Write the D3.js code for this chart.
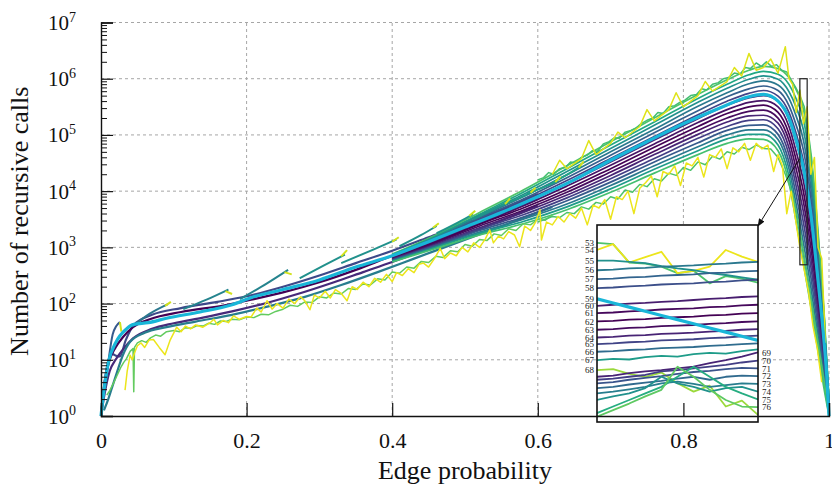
<!DOCTYPE html>
<html>
<head>
<meta charset="utf-8">
<script src="https://cdn.jsdelivr.net/npm/d3@7"></script>
<style>
  body { margin: 0; background: #fff; }
  svg { display: block; font-family: "Liberation Serif", "DejaVu Serif", serif; }
</style>
</head>
<body>
<div id="chart"></div>
<script>
// ---------- data (values are log10 of the number of recursive calls) ----------
const xTickValues = [0, 0.2, 0.4, 0.6, 0.8, 1];
const yDecades = [0, 1, 2, 3, 4, 5, 6, 7];

// dense family of curves (top -> bottom on the rising side)
const bandP = [0.40, 0.46, 0.52, 0.58, 0.64, 0.70, 0.76, 0.82, 0.86, 0.89, 0.91, 0.93, 0.945, 0.955, 0.965, 0.975, 0.985, 0.993, 1.0];
const bandCurves = [
  [2.88,3.22,3.62,4.02,4.45,4.88,5.30,5.72,5.98,6.15,6.22,6.18,6.02,5.80,5.45,4.60,3.20,1.90,0.30],
  [2.87,3.20,3.59,3.98,4.40,4.82,5.23,5.65,5.90,6.07,6.13,6.08,5.90,5.64,5.27,4.42,3.06,1.81,0.28],
  [2.86,3.19,3.57,3.94,4.35,4.76,5.17,5.58,5.83,5.99,6.05,5.99,5.77,5.49,5.08,4.25,2.93,1.71,0.26],
  [2.85,3.17,3.54,3.90,4.29,4.70,5.10,5.51,5.75,5.91,5.96,5.89,5.65,5.33,4.90,4.07,2.79,1.62,0.24],
  [2.84,3.16,3.51,3.86,4.24,4.64,5.04,5.43,5.68,5.82,5.87,5.79,5.52,5.17,4.72,3.89,2.65,1.53,0.22],
  [2.83,3.14,3.49,3.82,4.19,4.58,4.97,5.36,5.60,5.74,5.79,5.69,5.40,5.02,4.53,3.72,2.52,1.43,0.20],
  [2.82,3.12,3.46,3.78,4.14,4.52,4.91,5.29,5.53,5.66,5.70,5.60,5.27,4.86,4.35,3.54,2.38,1.34,0.18],
  [2.81,3.11,3.43,3.74,4.09,4.46,4.84,5.22,5.45,5.58,5.61,5.50,5.15,4.70,4.17,3.36,2.24,1.25,0.16],
  [2.81,3.09,3.41,3.70,4.03,4.40,4.78,5.15,5.38,5.50,5.53,5.40,5.02,4.55,3.98,3.19,2.11,1.15,0.14],
  [2.80,3.08,3.38,3.66,3.98,4.34,4.71,5.08,5.30,5.42,5.44,5.30,4.90,4.39,3.80,3.01,1.97,1.06,0.12],
  [2.79,3.06,3.35,3.62,3.93,4.28,4.65,5.01,5.23,5.34,5.35,5.21,4.77,4.23,3.62,2.83,1.83,0.97,0.10],
  [2.78,3.04,3.33,3.58,3.88,4.22,4.58,4.94,5.15,5.26,5.27,5.11,4.65,4.08,3.43,2.66,1.70,0.87,0.08],
  [2.77,3.03,3.30,3.54,3.83,4.16,4.52,4.86,5.08,5.17,5.18,5.01,4.52,3.92,3.25,2.48,1.56,0.78,0.06],
  [2.76,3.01,3.27,3.50,3.77,4.10,4.45,4.79,5.00,5.09,5.09,4.92,4.40,3.76,3.07,2.30,1.42,0.69,0.04],
  [2.75,3.00,3.25,3.46,3.72,4.04,4.39,4.72,4.93,5.01,5.01,4.82,4.27,3.61,2.88,2.13,1.29,0.59,0.02],
  [2.74,2.98,3.22,3.42,3.67,3.98,4.32,4.65,4.85,4.93,4.92,4.72,4.15,3.45,2.70,1.95,1.15,0.50,0.00]
];
const bandColorT = [0.72,0.6,0.5,0.4,0.3,0.2,0.12,0.05,0.0,0.03,0.1,0.18,0.28,0.4,0.55,0.7];

// the few curves visible at small edge probability
const bundleCurves = [
  [[0,0],[0.006,0.7],[0.012,1.05],[0.016,1.1],[0.021,1.07],[0.026,1.06],[0.034,1.35],[0.045,1.62],[0.07,1.8],[0.11,1.92],[0.16,2.03],[0.2,2.13],[0.25,2.3],[0.3,2.5],[0.35,2.72],[0.4,2.94],[0.45,3.18],[0.5,3.42],[0.55,3.68],[0.6,3.95]],
  [[0,0],[0.0055,0.64],[0.012,1.0],[0.02,1.22],[0.03,1.4],[0.044,1.58],[0.067,1.72],[0.11,1.85],[0.17,1.97],[0.21,2.08],[0.25,2.2],[0.3,2.38],[0.35,2.6],[0.4,2.85],[0.45,3.08],[0.5,3.32],[0.55,3.58],[0.6,3.86]],
  [[0,0],[0.005,0.4],[0.012,0.8],[0.02,1.0],[0.03,1.18],[0.044,1.38],[0.07,1.55],[0.1,1.65],[0.14,1.75],[0.18,1.86],[0.23,2.02],[0.27,2.17],[0.32,2.38],[0.36,2.56],[0.4,2.74],[0.45,2.98],[0.5,3.22],[0.55,3.48],[0.6,3.74]],
  [[0.004,0.1],[0.01,0.3],[0.015,0.5],[0.022,0.78],[0.03,1.08],[0.04,1.32],[0.06,1.48],[0.09,1.58],[0.13,1.68],[0.18,1.8],[0.23,1.95],[0.28,2.12],[0.33,2.33],[0.38,2.56],[0.43,2.8],[0.48,3.04],[0.53,3.28],[0.58,3.52],[0.62,3.72]]
];
const bundleColorT = [0.22, 0.0, 0.12, 0.42];

// highlighted curve (n = 59)
const cyanCurve = [[0,0],[0.003,0.35],[0.01,0.95],[0.02,1.3],[0.035,1.55],[0.045,1.63],[0.065,1.66],[0.09,1.74],[0.136,1.85],[0.18,1.98],[0.205,2.1],[0.25,2.25],[0.3,2.42],[0.35,2.65],[0.4,2.85],[0.45,3.1],[0.5,3.36],[0.55,3.62],[0.6,3.9],[0.65,4.2],[0.7,4.55],[0.75,4.88],[0.8,5.2],[0.85,5.48],[0.89,5.68],[0.91,5.72],[0.93,5.6],[0.945,5.3],[0.955,4.9],[0.965,4.4],[0.975,3.6],[0.985,2.4],[0.993,1.35],[0.997,0.7],[1.0,0]];

// short curves that leave the bundle upwards and stop
const hookCurves = [
  [[0.006,0.5],[0.011,1.05],[0.016,1.45],[0.021,1.6],[0.026,1.67]],
  [[0.044,1.6],[0.067,1.82],[0.092,1.99]],
  [[0.113,1.9],[0.145,2.07],[0.175,2.25]],
  [[0.191,2.08],[0.228,2.36],[0.257,2.6]],
  [[0.273,2.45],[0.305,2.67],[0.335,2.87]],
  [[0.33,2.72],[0.374,2.96],[0.406,3.14]],
  [[0.41,3.02],[0.44,3.22],[0.461,3.38]],
  [[0.461,3.25],[0.49,3.44],[0.511,3.59]],
  [[0.511,3.5],[0.54,3.68],[0.559,3.8]],
  [[0.55,3.75],[0.575,3.88],[0.594,3.99]],
  [[0.585,3.95],[0.61,4.08],[0.628,4.18]],
  [[0.62,4.15],[0.645,4.33],[0.66,4.45]]
];
const hookColorT = [0.28,0.4,0.45,0.45,0.5,0.5,0.5,0.52,0.52,0.55,0.55,0.58];
const hookTips = [
  [[0.026,1.67],[0.028,1.5]],
  [[0.088,1.96],[0.096,2.03]],
  [[0.171,2.22],[0.18,2.17]],
  [[0.252,2.56],[0.262,2.52]],
  [[0.33,2.84],[0.338,2.95]],
  [[0.4,3.1],[0.409,3.18]],
  [[0.456,3.35],[0.464,3.43]],
  [[0.506,3.56],[0.514,3.65]],
  [[0.555,3.77],[0.562,3.87]],
  [[0.59,3.97],[0.597,4.06]],
  [[0.624,4.16],[0.631,4.26]],
  [[0.656,4.42],[0.663,4.53]]
];

// noisy curves
const greenLow = [[0.008,0.37],[0.012,0.45],[0.017,0.58],[0.022,0.72],[0.027,0.86],[0.031,0.95],[0.035,1.02],[0.04,1.15],[0.044,1.2],[0.045,0.43],[0.046,1.22],[0.05,1.3],[0.056,1.34],[0.062,1.31],[0.068,1.39],[0.075,1.44],[0.082,1.42],[0.09,1.5],[0.1,1.52],[0.108,1.5],[0.116,1.57],[0.124,1.56],[0.132,1.61],[0.14,1.6],[0.148,1.65],[0.156,1.63],[0.164,1.69],[0.172,1.68],[0.18,1.72],[0.19,1.71],[0.2,1.76],[0.21,1.75],[0.22,1.81],[0.23,1.8],[0.24,1.86],[0.25,1.9],[0.26,1.97],[0.27,1.95],[0.28,2.03],[0.29,2.02],[0.3,2.12],[0.31,2.1],[0.32,2.19],[0.33,2.17],[0.34,2.27],[0.35,2.25],[0.36,2.35],[0.37,2.33],[0.38,2.44],[0.39,2.42],[0.4,2.56],[0.41,2.54],[0.42,2.65],[0.43,2.63],[0.44,2.75],[0.45,2.73],[0.46,2.84],[0.47,2.82],[0.48,2.94],[0.49,2.92],[0.5,3.05],[0.51,3.02],[0.52,3.14],[0.53,3.12],[0.54,3.24],[0.55,3.21],[0.56,3.33],[0.57,3.3],[0.58,3.42],[0.59,3.4],[0.6,3.5],[0.61,3.48],[0.62,3.58]];
const greenBand = [[0.6,3.45],[0.61,3.5],[0.62,3.55],[0.63,3.53],[0.64,3.62],[0.65,3.6],[0.66,3.72],[0.67,3.68],[0.68,3.8],[0.69,3.77],[0.7,3.9],[0.71,3.86],[0.72,4.02],[0.73,3.98],[0.74,4.12],[0.75,4.08],[0.76,4.22],[0.77,4.18],[0.78,4.32],[0.79,4.28],[0.8,4.42],[0.81,4.37],[0.82,4.52],[0.83,4.47],[0.84,4.62],[0.85,4.57],[0.86,4.7],[0.87,4.66],[0.88,4.78],[0.89,4.74],[0.9,4.82],[0.91,4.76],[0.92,4.75],[0.93,4.6],[0.94,4.3],[0.95,3.95],[0.96,3.3],[0.97,2.5],[0.98,1.7],[0.99,0.9],[0.996,0.4]];
const yellowLow = [[0.033,0.46],[0.036,0.8],[0.04,1.08],[0.043,1.0],[0.046,1.12],[0.05,1.25],[0.055,1.3],[0.06,1.22],[0.066,1.35],[0.072,1.36],[0.08,1.22],[0.088,1.09],[0.095,1.35],[0.104,1.58],[0.11,1.5],[0.116,1.6],[0.123,1.55],[0.13,1.62],[0.14,1.58],[0.15,1.66],[0.155,1.72],[0.16,1.62],[0.168,1.7],[0.175,1.66],[0.182,1.78],[0.19,1.72],[0.2,1.77],[0.206,1.76],[0.214,1.92],[0.22,1.85],[0.228,2.05],[0.235,1.9],[0.242,2.0],[0.25,1.92],[0.258,2.08],[0.266,2.0],[0.274,2.12],[0.28,2.05],[0.287,1.89],[0.293,2.15],[0.3,2.1],[0.308,2.22],[0.315,2.1],[0.322,2.25],[0.33,2.18],[0.338,2.05],[0.345,2.3],[0.352,2.25],[0.36,2.38],[0.368,2.3],[0.376,2.45],[0.384,2.38],[0.392,2.52],[0.4,2.39],[0.406,2.55],[0.414,2.5],[0.422,2.62],[0.43,2.55],[0.437,2.7],[0.443,2.72],[0.45,2.65],[0.458,2.8],[0.466,2.98],[0.472,2.8],[0.48,2.9],[0.488,2.85],[0.496,3.0],[0.504,2.92],[0.512,3.08],[0.52,3.0],[0.528,3.15],[0.534,3.31],[0.539,3.08],[0.546,3.2],[0.553,3.15],[0.56,3.28],[0.568,3.22],[0.575,3.01],[0.582,3.38],[0.59,3.3],[0.597,3.45],[0.603,3.67],[0.605,3.13],[0.612,3.45],[0.62,3.4],[0.628,3.55],[0.636,3.45],[0.644,3.6],[0.652,3.52],[0.66,3.7],[0.668,3.4],[0.676,3.75],[0.684,3.7],[0.692,3.85],[0.7,3.5],[0.708,3.9],[0.716,3.85],[0.724,4.0],[0.732,3.6],[0.74,4.05],[0.748,4.15],[0.756,4.27],[0.764,3.9],[0.772,4.35],[0.78,4.3],[0.788,4.45],[0.796,4.1],[0.804,4.5],[0.812,4.45],[0.82,4.6],[0.828,4.25],[0.836,4.65],[0.844,4.6],[0.852,4.75],[0.86,4.4],[0.868,4.77],[0.876,4.7],[0.884,4.85],[0.892,4.55],[0.9,4.85],[0.908,4.75],[0.916,4.82],[0.924,4.35],[0.93,4.65],[0.936,4.45],[0.942,3.6],[0.948,4.0],[0.954,3.5],[0.96,3.0],[0.966,2.6],[0.972,2.2],[0.978,1.6],[0.984,1.2],[0.99,0.6]];
const greenTop = [[0.6,4.2],[0.608,4.24],[0.615,4.33],[0.622,4.3],[0.63,4.4],[0.638,4.42],[0.645,4.52],[0.652,4.5],[0.66,4.6],[0.668,4.64],[0.675,4.72],[0.682,4.71],[0.69,4.84],[0.698,4.88],[0.705,4.95],[0.712,4.94],[0.72,5.05],[0.728,5.08],[0.735,5.12],[0.742,5.2],[0.75,5.26],[0.758,5.3],[0.765,5.4],[0.772,5.38],[0.78,5.5],[0.788,5.52],[0.795,5.58],[0.802,5.62],[0.81,5.7],[0.818,5.72],[0.825,5.82],[0.832,5.8],[0.84,5.9],[0.848,5.93],[0.855,6.0],[0.862,6.02],[0.87,6.1],[0.878,6.08],[0.885,6.2],[0.892,6.18],[0.9,6.28],[0.907,6.22],[0.914,6.3],[0.921,6.22],[0.928,6.25],[0.935,6.15],[0.942,6.12],[0.948,5.98],[0.954,5.85],[0.96,5.7],[0.966,5.5],[0.971,5.1],[0.976,4.6],[0.98,4.1],[0.985,3.3],[0.99,2.4],[0.995,1.5]];
const yellowTop = [[0.62,4.3],[0.63,4.55],[0.64,4.4],[0.66,4.58],[0.67,4.9],[0.68,4.65],[0.7,4.85],[0.71,5.05],[0.72,4.95],[0.74,5.15],[0.75,5.45],[0.76,5.25],[0.78,5.45],[0.79,5.75],[0.8,5.5],[0.82,5.7],[0.83,5.95],[0.84,5.78],[0.86,5.95],[0.87,6.2],[0.88,6.05],[0.89,6.45],[0.9,6.15],[0.91,6.2],[0.92,6.35],[0.93,6.1],[0.94,6.57],[0.945,6.0],[0.95,5.9],[0.955,5.4],[0.96,5.8],[0.965,5.2],[0.97,5.5],[0.975,4.3],[0.98,4.6],[0.985,3.0],[0.99,2.8],[0.995,1.3]];

// zoomed region and the inset's curves
const zoomBoxP = [0.96, 0.97];
const zoomBoxExp = [2.69, 6.0];
const insetP = [0.960,0.961,0.962,0.963,0.964,0.965,0.966,0.967,0.968,0.969,0.970];
const insetN = [53,54,55,56,57,58,59,60,61,62,63,64,65,66,67,68,69,70,71,72,73,74,75,76];
const insetColorT = [0.72,0.97,0.5,0.4,0.32,0.24,null,0.08,0.02,0.0,0.03,0.1,0.2,0.35,0.55,0.85,0.1,0.18,0.26,0.34,0.42,0.5,0.62,0.75];
const insetCurves = [
  [5.70,5.68,5.37,5.35,5.30,5.19,5.23,5.02,5.14,5.10,5.03],
  [5.58,5.68,5.37,5.46,5.55,5.19,5.23,5.30,5.58,5.47,5.38],
  [5.40,5.40,5.38,5.36,5.31,5.27,5.24,5.19,5.16,5.12,5.08],
  [5.24,5.25,5.27,5.28,5.30,5.31,5.32,5.34,5.35,5.37,5.38],
  [5.09,5.10,5.12,5.13,5.15,5.16,5.17,5.19,5.20,5.22,5.23],
  [4.94,4.95,4.97,4.98,5.00,5.01,5.02,5.04,5.05,5.07,5.08],
  [4.76,4.69,4.62,4.55,4.48,4.41,4.34,4.27,4.20,4.13,4.06],
  [4.64,4.66,4.68,4.69,4.71,4.72,4.74,4.76,4.77,4.79,4.80],
  [4.52,4.53,4.55,4.56,4.58,4.59,4.60,4.62,4.63,4.65,4.66],
  [4.38,4.39,4.41,4.42,4.44,4.45,4.46,4.48,4.49,4.51,4.52],
  [4.24,4.25,4.27,4.28,4.30,4.31,4.32,4.34,4.35,4.37,4.38],
  [4.11,4.12,4.14,4.15,4.17,4.18,4.19,4.21,4.22,4.24,4.25],
  [4.00,4.01,4.03,4.04,4.06,4.07,4.08,4.10,4.11,4.13,4.14],
  [3.87,3.88,3.90,3.91,3.93,3.94,3.95,3.97,3.98,4.00,4.01],
  [3.73,3.75,3.74,3.78,3.80,3.79,3.83,3.85,3.84,3.88,3.91],
  [3.56,3.58,3.50,3.45,3.52,3.34,3.20,3.30,2.95,3.05,2.81],
  [3.45,3.47,3.51,3.54,3.56,3.59,3.62,3.68,3.73,3.79,3.86],
  [3.40,3.42,3.45,3.48,3.54,3.56,3.59,3.62,3.65,3.69,3.72],
  [3.34,3.36,3.40,3.43,3.46,3.50,3.53,3.55,3.58,3.60,3.59],
  [3.26,3.28,3.32,3.35,3.38,3.42,3.45,3.40,3.45,3.47,3.46],
  [3.17,3.20,3.24,3.28,3.34,3.37,3.33,3.28,3.31,3.34,3.33],
  [3.06,3.12,3.17,3.26,3.45,3.34,3.28,3.20,3.26,3.28,3.20],
  [2.84,2.95,3.06,3.17,3.28,3.45,3.62,3.45,3.28,3.17,3.07],
  [2.78,2.89,3.00,3.12,3.23,3.62,3.45,3.23,3.06,2.95,2.94]
];

// ---------- drawing ----------
const width = 832, height = 488;
const plot = { left: 101, right: 829, top: 22.5, bottom: 416 };
const CYAN = "#19b6d8";
const viridis = t => d3.interpolateViridis(t);

const svg = d3.select("#chart").append("svg")
  .attr("width", width)
  .attr("height", height);

const x = d3.scaleLinear().domain([0, 1]).range([plot.left, plot.right]);
const y = d3.scaleLog().domain([1, 1e7]).range([plot.bottom, plot.top]);
const Y = e => y(Math.pow(10, e));

const lineSmooth = d3.line().x(d => x(d[0])).y(d => Y(d[1])).curve(d3.curveMonotoneX);
const lineRaw = d3.line().x(d => x(d[0])).y(d => Y(d[1]));

// grid
const grid = svg.append("g")
  .attr("stroke", "#a6a6a6")
  .attr("stroke-width", 1)
  .attr("stroke-dasharray", "3,3");
xTickValues.filter(v => v > 0).forEach(v => {
  grid.append("line").attr("x1", x(v)).attr("x2", x(v)).attr("y1", Y(0)).attr("y2", Y(7));
});
yDecades.filter(e => e > 0).forEach(e => {
  grid.append("line").attr("x1", x(0)).attr("x2", x(1)).attr("y1", Y(e)).attr("y2", Y(e));
});

const curves = svg.append("g")
  .attr("fill", "none")
  .attr("stroke-linejoin", "round");

// low-probability bundle
bundleCurves.forEach((c, i) => {
  curves.append("path").attr("d", lineSmooth(c))
    .attr("stroke", viridis(bundleColorT[i])).attr("stroke-width", 2.2);
});

// dense band
bandCurves.forEach((vals, i) => {
  const pts = vals.map((v, j) => [bandP[j], v]);
  curves.append("path").attr("d", lineSmooth(pts))
    .attr("stroke", viridis(bandColorT[i])).attr("stroke-width", 1.7);
});

// noisy curves
[[greenLow, 0.76], [greenBand, 0.72], [yellowLow, 0.97], [greenTop, 0.7], [yellowTop, 0.95]].forEach(([c, t]) => {
  curves.append("path").attr("d", lineRaw(c))
    .attr("stroke", viridis(t)).attr("stroke-width", 1.5);
});

// hooks
hookCurves.forEach((c, i) => {
  curves.append("path").attr("d", lineSmooth(c))
    .attr("stroke", viridis(hookColorT[i])).attr("stroke-width", 2);
});
hookTips.forEach(c => {
  curves.append("path").attr("d", lineRaw(c))
    .attr("stroke", viridis(0.93)).attr("stroke-width", 2);
});

// highlighted curve
curves.append("path").attr("d", lineSmooth(cyanCurve))
  .attr("stroke", CYAN).attr("stroke-width", 3.2);

// zoom box and arrow
svg.append("rect")
  .attr("x", x(zoomBoxP[0])).attr("y", Y(zoomBoxExp[1]))
  .attr("width", x(zoomBoxP[1]) - x(zoomBoxP[0]))
  .attr("height", Y(zoomBoxExp[0]) - Y(zoomBoxExp[1]))
  .attr("fill", "none").attr("stroke", "#222").attr("stroke-width", 1.2);

svg.append("defs").append("marker")
  .attr("id", "arrow").attr("viewBox", "0 0 10 10")
  .attr("refX", 9).attr("refY", 5)
  .attr("markerWidth", 8).attr("markerHeight", 8)
  .attr("markerUnits", "userSpaceOnUse")
  .attr("orient", "auto")
  .append("path").attr("d", "M0,1L10,5L0,9z").attr("fill", "#111");

// inset
const inset = { x: 597, y: 225, w: 161, h: 197 };
svg.append("line")
  .attr("x1", x(zoomBoxP[0]) - 0.5).attr("y1", Y(4.57))
  .attr("x2", inset.x + inset.w).attr("y2", inset.y + 1)
  .attr("stroke", "#111").attr("stroke-width", 1)
  .attr("marker-end", "url(#arrow)");

const ix = d3.scaleLinear().domain([insetP[0], insetP[insetP.length - 1]]).range([inset.x, inset.x + inset.w]);
const iy = d3.scaleLinear().domain(zoomBoxExp).range([inset.y + inset.h, inset.y]);

svg.append("clipPath").attr("id", "insetClip")
  .append("rect").attr("x", inset.x).attr("y", inset.y).attr("width", inset.w).attr("height", inset.h);

svg.append("rect")
  .attr("x", inset.x).attr("y", inset.y).attr("width", inset.w).attr("height", inset.h)
  .attr("fill", "#fff");

const insetLine = d3.line()
  .defined(d => d[1] != null)
  .x(d => ix(d[0])).y(d => iy(d[1]));

const ig = svg.append("g").attr("clip-path", "url(#insetClip)")
  .attr("fill", "none").attr("stroke-linejoin", "round");
insetCurves.forEach((vals, i) => {
  if (insetColorT[i] == null) return;
  ig.append("path").attr("d", insetLine(vals.map((v, j) => [insetP[j], v])))
    .attr("stroke", viridis(insetColorT[i])).attr("stroke-width", 1.8);
});
insetCurves.forEach((vals, i) => {
  if (insetColorT[i] != null) return;
  ig.append("path").attr("d", insetLine(vals.map((v, j) => [insetP[j], v])))
    .attr("stroke", CYAN).attr("stroke-width", 3.2);
});

svg.append("rect")
  .attr("x", inset.x).attr("y", inset.y).attr("width", inset.w).attr("height", inset.h)
  .attr("fill", "none").attr("stroke", "#111").attr("stroke-width", 1.6);

const labels = svg.append("g").attr("font-size", 9).attr("fill", "#222");
insetN.forEach((n, i) => {
  const vals = insetCurves[i];
  if (n <= 68) {
    labels.append("text").attr("x", inset.x - 3).attr("y", iy(vals[0]) + 3.2)
      .attr("text-anchor", "end").text(n);
  } else {
    labels.append("text").attr("x", inset.x + inset.w + 4).attr("y", iy(vals[vals.length - 1]) + 3.2)
      .attr("text-anchor", "start").text(n);
  }
});

// axes
const xAxis = svg.append("g")
  .attr("transform", `translate(0,${plot.bottom})`)
  .call(d3.axisBottom(x).tickValues(xTickValues).tickSize(-13).tickPadding(16)
    .tickFormat(d => d3.format("")(d)));
xAxis.select(".domain").attr("stroke", "#111").attr("stroke-width", 1.4);
xAxis.selectAll(".tick line").attr("stroke", "#111").attr("stroke-width", 1.2);
xAxis.selectAll(".tick text").attr("font-size", 22).attr("fill", "#111")
  .attr("font-family", "Liberation Serif, DejaVu Serif, serif");

const minorValues = [];
yDecades.slice(0, -1).forEach(e => {
  for (let m = 2; m <= 9; m++) minorValues.push(m * Math.pow(10, e));
});
const yMinor = svg.append("g")
  .attr("transform", `translate(${plot.left},0)`)
  .call(d3.axisLeft(y).tickValues(minorValues).tickSize(-6).tickFormat(""));
yMinor.select(".domain").remove();
yMinor.selectAll(".tick line").attr("stroke", "#111").attr("stroke-width", 1);

const yAxis = svg.append("g")
  .attr("transform", `translate(${plot.left},0)`)
  .call(d3.axisLeft(y).tickValues(yDecades.map(e => Math.pow(10, e))).tickSize(-12).tickFormat(""));
yAxis.select(".domain").attr("stroke", "#111").attr("stroke-width", 1.4);
yAxis.selectAll(".tick line").attr("stroke", "#111").attr("stroke-width", 1.2);

const yLabels = svg.append("g").attr("fill", "#111");
yDecades.forEach(e => {
  const t = yLabels.append("text")
    .attr("x", 76).attr("y", Y(e) + 7.5)
    .attr("text-anchor", "end")
    .attr("font-size", 21);
  t.append("tspan").text("10");
  t.append("tspan").attr("dy", -8.5).attr("font-size", 14).text(e);
});

svg.append("text")
  .attr("transform", `translate(28,${(plot.top + plot.bottom) / 2 + 2}) rotate(-90)`)
  .attr("text-anchor", "middle")
  .attr("font-size", 26).attr("fill", "#111")
  .text("Number of recursive calls");

svg.append("text")
  .attr("x", (plot.left + plot.right) / 2).attr("y", 479)
  .attr("text-anchor", "middle")
  .attr("font-size", 26).attr("fill", "#111")
  .text("Edge probability");
</script>
</body>
</html>
